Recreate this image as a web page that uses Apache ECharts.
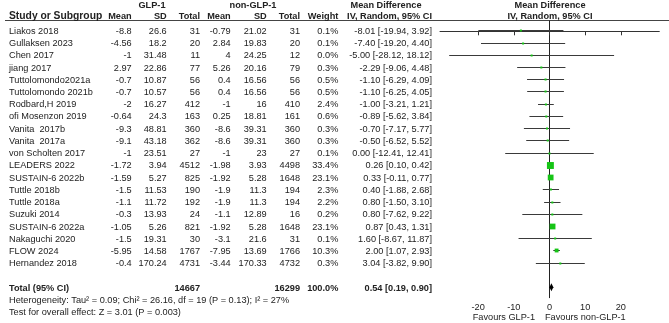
<!DOCTYPE html>
<html>
<head>
<meta charset="utf-8">
<script src="https://cdn.jsdelivr.net/npm/echarts@6/dist/echarts.min.js"></script>
<style>
  html, body {margin: 0; padding: 0; background: #fff;}
  #chart {width: 669px; height: 323px;}
</style>
</head>
<body>
<div id="chart"></div>
<script>
// study rows
const studies = ['Liakos 2018', 'Gullaksen 2023', 'Chen 2017', 'jiang 2017', 'Tuttolomondo2021a', 'Tuttolomondo 2021b',
  'Rodbard,H 2019', 'ofi Mosenzon 2019', 'Vanita  2017b', 'Vanita  2017a', 'von Scholten 2017', 'LEADERS 2022',
  'SUSTAIN-6 2022b', 'Tuttle 2018b', 'Tuttle 2018a', 'Suzuki 2014', 'SUSTAIN-6 2022a', 'Nakaguchi 2020', 'FLOW 2024',
  'Hernandez 2018'];
const glpMean = [-8.8, -4.56, -1, 2.97, -0.7, -0.7, -2, -0.64, -9.3, -9.1, -1, -1.72, -1.59, -1.5, -1.1, -0.3, -1.05, -1.5, -5.95, -0.4];
const glpSD = [26.6, 18.2, 31.48, 22.86, 10.87, 10.57, 16.27, 24.3, 48.81, 43.18, 23.51, 3.94, 5.27, 11.53, 11.72, 13.93, 5.26, 19.31, 14.58, 170.24];
const glpTotal = [31, 20, 11, 77, 56, 56, 412, 163, 360, 362, 27, 4512, 825, 190, 192, 24, 821, 30, 1767, 4731];
const nonMean = [-0.79, 2.84, 4, 5.26, 0.4, 0.4, -1, 0.25, -8.6, -8.6, -1, -1.98, -1.92, -1.9, -1.9, -1.1, -1.92, -3.1, -7.95, -3.44];
const nonSD = [21.02, 19.83, 24.25, 20.16, 16.56, 16.56, 16, 18.81, 39.31, 39.31, 23, 3.93, 5.28, 11.3, 11.3, 12.89, 5.28, 21.6, 13.69, 170.33];
const nonTotal = [31, 20, 12, 79, 56, 56, 410, 161, 360, 360, 27, 4498, 1648, 194, 194, 16, 1648, 31, 1766, 4732];
const weight = [0.1, 0.1, 0.0, 0.3, 0.5, 0.5, 2.4, 0.6, 0.3, 0.3, 0.1, 33.4, 23.1, 2.3, 2.2, 0.2, 23.1, 0.1, 10.3, 0.3];
const md = [-8.01, -7.40, -5.00, -2.29, -1.10, -1.10, -1.00, -0.89, -0.70, -0.50, 0.00, 0.26, 0.33, 0.40, 0.80, 0.80, 0.87, 1.60, 2.00, 3.04];
const ciLow = [-19.94, -19.20, -28.12, -9.06, -6.29, -6.25, -3.21, -5.62, -7.17, -6.52, -12.41, 0.10, -0.11, -1.88, -1.50, -7.62, 0.43, -8.67, 1.07, -3.82];
const ciHigh = [3.92, 4.40, 18.12, 4.48, 4.09, 4.05, 1.21, 3.84, 5.77, 5.52, 12.41, 0.42, 0.77, 2.68, 3.10, 9.22, 1.31, 11.87, 2.93, 9.90];

// pooled result
const totalGlp = 14667;
const totalNon = 16299;
const totalWeight = 100.0;
const pooled = [0.54, 0.19, 0.90];
const totalRow = 21;
const heterogeneity = 'Heterogeneity: Tau\u00b2 = 0.09; Chi\u00b2 = 26.16, df = 19 (P = 0.13); I\u00b2 = 27%';
const overallTest = 'Test for overall effect: Z = 3.01 (P = 0.003)';
const xTicks = [-20, -10, 0, 10, 20];

const FONT = 'Arial, "Liberation Sans", sans-serif';
const FS = 9.2;
const TXT = '#222';

// right edges of numeric columns
const cols = [131.7, 166.7, 200, 230.7, 266.7, 300, 338.3, 432];

const chart = echarts.init(document.getElementById('chart'), null, {renderer: 'canvas'});

function txt(text, x, y, align, bold, size) {
  return {
    type: 'text',
    x: x, y: y,
    style: {
      text: text, textAlign: align, textVerticalAlign: 'middle',
      fontSize: size || FS, fontFamily: FONT, fontWeight: bold ? 'bold' : 'normal', fill: TXT
    },
    silent: true
  };
}

const rows = studies.map((s, i) => [i, md[i], ciLow[i], ciHigh[i], weight[i]]);

function renderRow(params, api) {
  const i = params.dataIndex;
  const row = api.value(0);
  const y = api.coord([0, row])[1];
  const ly = Math.round(y - 1) + 0.5;
  const lo = api.coord([api.value(2), row]);
  const hi = api.coord([api.value(3), row]);
  const mid = api.coord([api.value(1), row]);
  let side = 1.2 * Math.sqrt(api.value(4));
  if (side < 2) side = 2;
  const vals = [glpMean[i], glpSD[i], glpTotal[i], nonMean[i], nonSD[i], nonTotal[i],
    weight[i].toFixed(1) + '%',
    md[i].toFixed(2) + ' [' + ciLow[i].toFixed(2) + ', ' + ciHigh[i].toFixed(2) + ']'];
  const children = [txt(studies[i], 9, y, 'left', false)];
  vals.forEach((v, k) => children.push(txt(String(v), cols[k], y, 'right', false)));
  children.push({
    type: 'line',
    shape: {x1: lo[0], y1: ly, x2: hi[0], y2: ly},
    style: {stroke: '#3a3a3a', lineWidth: 1}
  });
  children.push({
    type: 'rect',
    shape: {x: mid[0] - side / 2, y: ly - side / 2, width: side, height: side},
    style: {fill: '#16c416'}
  });
  return {type: 'group', children: children};
}

function renderTotal(params, api) {
  const row = api.value(0);
  const c = api.coord([api.value(1), row]);
  const l = api.coord([api.value(2), row]);
  const r = api.coord([api.value(3), row]);
  const y = c[1];
  return {
    type: 'group',
    children: [
      txt('Total (95% CI)', 9, y, 'left', true),
      txt(String(totalGlp), cols[2], y, 'right', true),
      txt(String(totalNon), cols[5], y, 'right', true),
      txt(totalWeight.toFixed(1) + '%', cols[6], y, 'right', true),
      txt(pooled[0].toFixed(2) + ' [' + pooled[1].toFixed(2) + ', ' + pooled[2].toFixed(2) + ']', cols[7], y, 'right', true),
      {
        type: 'polygon',
        shape: {points: [[l[0] - 0.7, y - 1], [c[0], y - 5], [r[0] + 0.7, y - 1], [c[0], y + 3]]},
        style: {fill: '#000'}
      }
    ]
  };
}

const option = {
  animation: false,
  backgroundColor: '#fff',
  grid: {left: 440, right: 9.7, top: 21, bottom: 25.3},
  xAxis: {
    type: 'value',
    min: -30.7,
    max: 30.8,
    axisLine: {lineStyle: {color: '#333', width: 1}},
    axisTick: {show: true, length: 4, customValues: xTicks, lineStyle: {color: '#333'}},
    axisLabel: {customValues: xTicks, margin: 5, fontSize: FS, fontFamily: FONT, color: TXT},
    splitLine: {show: false}
  },
  yAxis: {
    type: 'value',
    inverse: true,
    min: -0.842,
    max: 21.78,
    axisLine: {show: true, onZero: true, lineStyle: {color: '#222', width: 1}},
    axisTick: {show: false},
    axisLabel: {show: false},
    splitLine: {show: false}
  },
  graphic: [
    {type: 'line', shape: {x1: 5, y1: 20.5, x2: 669, y2: 20.5}, style: {stroke: '#444', lineWidth: 1}, silent: true},
    txt('GLP-1', 152, 5, 'center', true),
    txt('non-GLP-1', 253, 5, 'center', true),
    txt('Mean Difference', 386, 5, 'center', true),
    txt('Mean Difference', 550, 5, 'center', true),
    txt('Study or Subgroup', 9, 16, 'left', true, 10.3),
    txt('Mean', cols[0], 16, 'right', true),
    txt('SD', cols[1], 16, 'right', true),
    txt('Total', cols[2], 16, 'right', true),
    txt('Mean', cols[3], 16, 'right', true),
    txt('SD', cols[4], 16, 'right', true),
    txt('Total', cols[5], 16, 'right', true),
    txt('Weight', cols[6], 16, 'right', true),
    txt('IV, Random, 95% CI', cols[7], 16, 'right', true),
    txt('IV, Random, 95% CI', 550, 16, 'center', true),
    txt(heterogeneity, 9, 300.5, 'left', false),
    txt(overallTest, 9, 312.5, 'left', false),
    txt('Favours GLP-1', 535, 317, 'right', false),
    txt('Favours non-GLP-1', 545, 317, 'left', false)
  ],
  series: [
    {
      type: 'custom',
      name: 'studies',
      clip: false,
      data: rows,
      encode: {x: 1, y: 0},
      renderItem: renderRow
    },
    {
      type: 'custom',
      name: 'total',
      clip: false,
      data: [[totalRow, pooled[0], pooled[1], pooled[2]]],
      encode: {x: 1, y: 0},
      renderItem: renderTotal
    }
  ]
};

chart.setOption(option);
</script>
</body>
</html>
